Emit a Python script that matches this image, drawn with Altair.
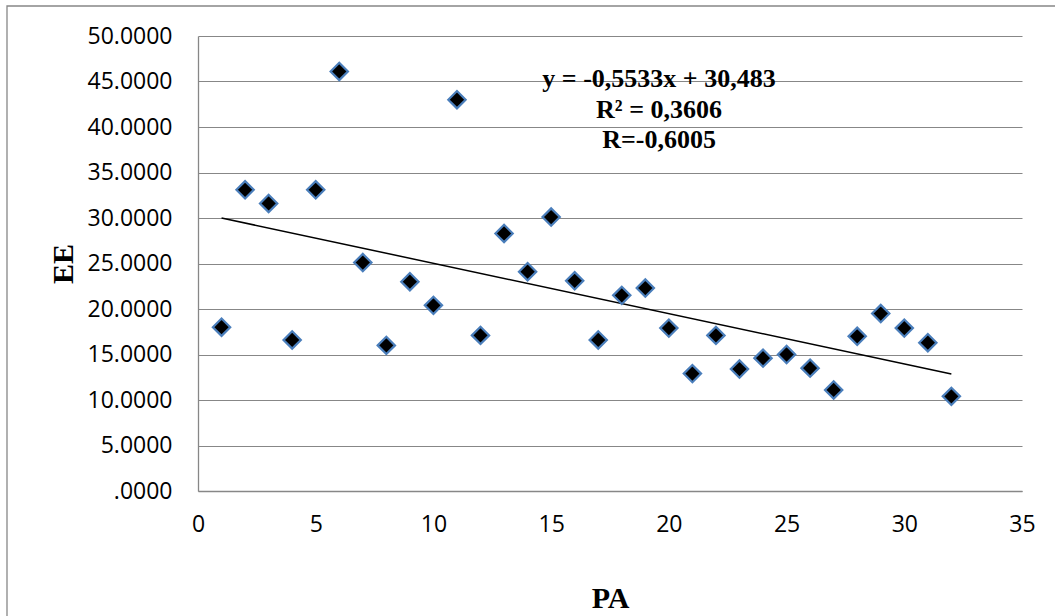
import altair as alt
import pandas as pd

# Data
pa = list(range(1, 33))
ee = [18.0, 33.1, 31.6, 16.6, 33.1, 46.1, 25.1, 16.0, 23.0, 20.4,
      43.0, 17.1, 28.3, 24.1, 30.1, 23.1, 16.6, 21.5, 22.3, 17.9,
      12.9, 17.1, 13.4, 14.6, 15.0, 13.5, 11.1, 17.0, 19.5, 17.9,
      16.3, 10.4]
x_ticks = [0, 5, 10, 15, 20, 25, 30, 35]
y_ticks = [0, 5, 10, 15, 20, 25, 30, 35, 40, 45, 50]
annotation = ["y = -0,5533x + 30,483", "R² = 0,3606", "R=-0,6005"]

df = pd.DataFrame({"PA": pa, "EE": ee})

GRID = "#878787"
LABEL_FONT = "Open Sans"
TITLE_FONT = "Liberation Serif"

x = alt.X("PA:Q",
          scale=alt.Scale(domain=[0, 35], nice=False, zero=False),
          axis=alt.Axis(values=x_ticks, grid=False, ticks=False, tickSize=0,
                        domainColor=GRID, domainWidth=1.3,
                        labelFont=LABEL_FONT, labelFontSize=23, labelColor="#000000",
                        labelPadding=22, labelFlush=False,
                        title="PA", titleFont=TITLE_FONT, titleFontSize=30,
                        titleFontWeight="bold", titleColor="#000000",
                        titleX=412, titleY=107, titleBaseline="middle"))
y = alt.Y("EE:Q",
          scale=alt.Scale(domain=[0, 50], nice=False),
          axis=alt.Axis(values=y_ticks, grid=True, gridColor=GRID, gridWidth=1.1,
                        ticks=False, tickSize=0,
                        domainColor=GRID, domainWidth=1.3,
                        labelExpr="datum.value == 0 ? '.0000' : format(datum.value, '.4f')",
                        labelFont=LABEL_FONT, labelFontSize=23, labelColor="#000000",
                        labelPadding=26, labelFlush=False,
                        title="EE", titleFont=TITLE_FONT, titleFontSize=30,
                        titleFontWeight="bold", titleColor="#000000",
                        titleX=-135, titleY=227.5, titleBaseline="middle"))

base = alt.Chart(df)

frame = base.mark_rect(filled=False, stroke=GRID, strokeWidth=1.3, clip=False).encode(
    x=alt.value(-191), x2=alt.value(900), y=alt.value(-30), y2=alt.value(700)
).transform_filter("datum.PA == 1")

trend = base.transform_regression("PA", "EE").mark_line(
    color="#000000", strokeWidth=1.5
).encode(x=x, y=y)

points = base.mark_point(shape="diamond", filled=True, size=300,
                         fill="#000000", stroke="#4A7EBB", strokeWidth=2.2,
                         opacity=1).encode(x=x, y=y)

text = base.mark_text(text=annotation, font=TITLE_FONT, fontSize=26,
                      fontWeight="bold", color="#000000", align="center",
                      baseline="alphabetic", lineHeight=30.5).encode(
    x=alt.value(461), y=alt.value(51)
).transform_filter("datum.PA == 1")

chart = alt.layer(frame, trend, points, text).properties(
    width=824, height=455,
    autosize=alt.AutoSizeParams(type="none"),
    padding={"left": 198, "top": 36, "right": 33, "bottom": 125},
    background="#ffffff",
).configure_view(strokeWidth=0)

chart.save("out.html", embed_options={"renderer": "svg", "actions": False})
